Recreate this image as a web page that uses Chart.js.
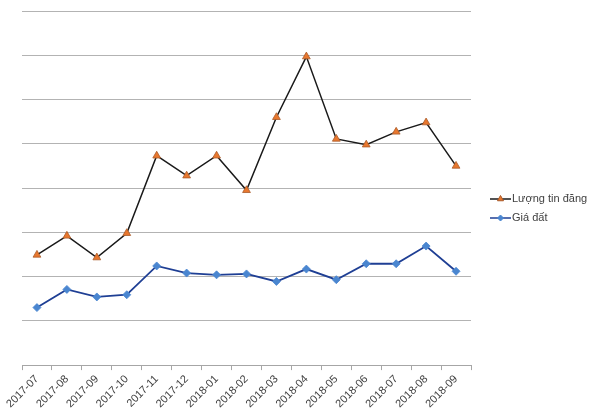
<!DOCTYPE html>
<html lang="vi">
<head>
    <meta charset="UTF-8">
    <title>Lượng tin đăng và Giá đất</title>
    <script src="https://cdn.jsdelivr.net/npm/chart.js"></script>
    <style>
        html, body { margin: 0; padding: 0; background: #fff; }
        #wrap { width: 600px; height: 415px; position: relative; }
    </style>
</head>
<body>
    <div id="wrap"><canvas id="myChart"></canvas></div>

    <script>
        const months = ['2017-07', '2017-08', '2017-09', '2017-10', '2017-11', '2017-12', '2018-01', '2018-02',
            '2018-03', '2018-04', '2018-05', '2018-06', '2018-07', '2018-08', '2018-09'];
        const luongTinDang = [2.49, 2.92, 2.43, 2.98, 4.73, 4.28, 4.73, 3.95, 5.60, 6.97, 5.11, 4.98, 5.27, 5.48, 4.50];
        const giaDat = [1.30, 1.71, 1.54, 1.59, 2.24, 2.08, 2.04, 2.06, 1.89, 2.17, 1.93, 2.29, 2.29, 2.69, 2.12];

        // legend drawn by hand: short line with the marker in the middle, text to its right
        const sideLegend = {
            id: 'sideLegend',
            afterDraw(chart) {
                const ctx = chart.ctx;
                const rows = [199, 218];
                chart.data.datasets.forEach((ds, i) => {
                    const y = rows[i];
                    ctx.save();
                    ctx.strokeStyle = ds.borderColor;
                    ctx.lineWidth = 1.5;
                    ctx.beginPath();
                    ctx.moveTo(490, y);
                    ctx.lineTo(511, y);
                    ctx.stroke();

                    ctx.fillStyle = ds.pointBackgroundColor;
                    ctx.strokeStyle = ds.pointBorderColor;
                    ctx.lineWidth = 1;
                    Chart.helpers.drawPoint(ctx, {
                        pointStyle: ds.pointStyle,
                        radius: ds.pointRadius - 1,
                        borderWidth: 1
                    }, 500.5, y);

                    ctx.fillStyle = '#404040';
                    ctx.font = '11px "Liberation Sans", Arial, sans-serif';
                    ctx.textBaseline = 'middle';
                    ctx.fillText(ds.label, 512, y);
                    ctx.restore();
                });
            }
        };

        new Chart(document.getElementById('myChart'), {
            type: 'line',
            data: {
                labels: months,
                datasets: [{
                    label: 'Lượng tin đăng',
                    data: luongTinDang,
                    borderColor: '#1a1a1a',
                    borderWidth: 1.5,
                    pointStyle: 'triangle',
                    pointRadius: 4.5,
                    pointBackgroundColor: '#e8772e',
                    pointBorderColor: '#a85a2a',
                    pointBorderWidth: 0.8,
                    tension: 0
                }, {
                    label: 'Giá đất',
                    data: giaDat,
                    borderColor: '#1f3f94',
                    borderWidth: 1.8,
                    pointStyle: 'rectRot',
                    pointRadius: 4,
                    pointBackgroundColor: '#4a86d0',
                    pointBorderColor: '#4a86d0',
                    pointBorderWidth: 0.8,
                    tension: 0
                }]
            },
            options: {
                responsive: true,
                maintainAspectRatio: false,
                animation: false,
                layout: { padding: { left: 22, right: 129, top: 11, bottom: 2 } },
                plugins: {
                    legend: { display: false },
                    tooltip: { enabled: false }
                },
                scales: {
                    x: {
                        offset: true,
                        grid: {
                            offset: true,
                            drawOnChartArea: false,
                            drawTicks: true,
                            tickLength: 5,
                            color: '#a6a6a6'
                        },
                        border: { display: true, color: '#a6a6a6', width: 1 },
                        ticks: {
                            autoSkip: false,
                            maxRotation: 45,
                            minRotation: 45,
                            padding: 2.5,
                            color: '#404040',
                            font: { family: '"Liberation Sans", Arial, sans-serif', size: 11 }
                        }
                    },
                    y: {
                        min: 0,
                        max: 8,
                        ticks: { display: false, stepSize: 1 },
                        grid: { color: '#b3b3b3', drawTicks: false, lineWidth: 1 },
                        border: { display: false }
                    }
                }
            },
            plugins: [sideLegend]
        });
    </script>
</body>
</html>
